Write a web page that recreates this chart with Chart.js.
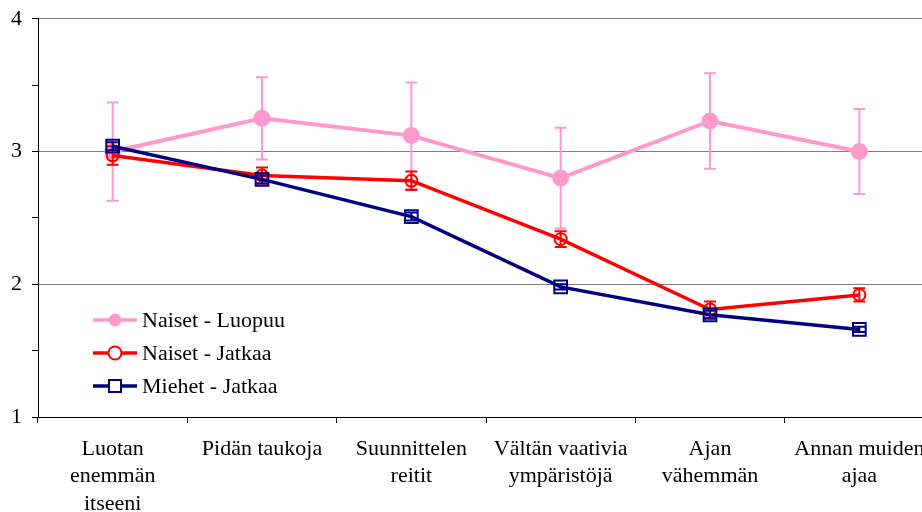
<!DOCTYPE html>
<html>
<head>
<meta charset="utf-8">
<script src="https://cdn.jsdelivr.net/npm/chart.js@4"></script>
<style>
  html, body { margin: 0; padding: 0; background: #fff; overflow: hidden; }
  #myChart { display: block; }
</style>
</head>
<body>
<canvas id="myChart" width="945" height="512"></canvas>
<script>
const kategoriat = [
    ['Luotan', 'enemmän', 'itseeni'],
    'Pidän taukoja',
    ['Suunnittelen', 'reitit'],
    ['Vältän vaativia', 'ympäristöjä'],
    ['Ajan', 'vähemmän'],
    ['Annan muiden', 'ajaa']
];

const naisetLuopuu = [3.00, 3.25, 3.12, 2.80, 3.23, 3.00];
const naisetLuopuuVirhe = [0.37, 0.31, 0.40, 0.38, 0.36, 0.32];

const naisetJatkaa = [2.97, 2.82, 2.78, 2.34, 1.81, 1.92];
const naisetJatkaaVirhe = [0.07, 0.06, 0.07, 0.06, 0.06, 0.05];

const miehetJatkaa = [3.04, 2.79, 2.51, 1.98, 1.77, 1.66];
const miehetJatkaaVirhe = [0.03, 0.03, 0.03, 0.02, 0.03, 0.02];

const fontti = "'Liberation Serif', 'Times New Roman', serif";

const virhepalkit = {
    id: 'virhepalkit',
    afterDatasetDraw(chart, args) {
        const ds = chart.data.datasets[args.index];
        if (!ds.virheet) return;
        const y = chart.scales.y;
        const ctx = chart.ctx;
        ctx.save();
        ctx.strokeStyle = ds.borderColor;
        ctx.lineWidth = 2;
        args.meta.data.forEach((pt, i) => {
            const e = ds.virheet[i];
            const yl = y.getPixelForValue(ds.data[i] + e);
            const ya = y.getPixelForValue(ds.data[i] - e);
            ctx.beginPath();
            ctx.moveTo(pt.x, yl); ctx.lineTo(pt.x, ya);
            ctx.moveTo(pt.x - 6, yl); ctx.lineTo(pt.x + 6, yl);
            ctx.moveTo(pt.x - 6, ya); ctx.lineTo(pt.x + 6, ya);
            ctx.stroke();
        });
        ctx.restore();
    }
};

const selite = {
    id: 'selite',
    afterDraw(chart) {
        const ctx = chart.ctx;
        const a = chart.chartArea;
        const x0 = a.left + 55, y0 = 320;
        ctx.save();
        ctx.font = '22px ' + fontti;
        ctx.textBaseline = 'middle';
        chart.data.datasets.forEach((ds, i) => {
            const yy = y0 + i * 33;
            ctx.strokeStyle = ds.borderColor;
            ctx.lineWidth = 3.5;
            ctx.beginPath();
            ctx.moveTo(x0, yy); ctx.lineTo(x0 + 44, yy);
            ctx.stroke();
            ctx.lineWidth = 2;
            const cx = x0 + 22;
            if (ds.pointStyle === 'rect') {
                ctx.fillStyle = '#fff';
                ctx.fillRect(cx - 6, yy - 6, 12, 12);
                ctx.strokeRect(cx - 6, yy - 6, 12, 12);
            } else {
                ctx.beginPath();
                ctx.arc(cx, yy, 6.5, 0, Math.PI * 2);
                if (ds.pointBackgroundColor === ds.borderColor) {
                    ctx.fillStyle = ds.borderColor;
                    ctx.fill();
                } else {
                    ctx.fillStyle = '#fff';
                    ctx.fill();
                    ctx.stroke();
                }
            }
            ctx.fillStyle = '#000';
            ctx.fillText(ds.label, x0 + 49, yy + 1);
        });
        ctx.restore();
    }
};

const config = {
    type: 'line',
    data: {
        labels: kategoriat,
        datasets: [{
            label: 'Naiset - Luopuu',
            data: naisetLuopuu,
            virheet: naisetLuopuuVirhe,
            borderColor: '#FF99CC',
            pointBackgroundColor: '#FF99CC',
            pointBorderColor: '#FF99CC',
            pointStyle: 'circle',
            pointRadius: 6.5,
            borderWidth: 4,
            order: 2
        }, {
            label: 'Naiset - Jatkaa',
            data: naisetJatkaa,
            virheet: naisetJatkaaVirhe,
            borderColor: '#FF0000',
            pointBackgroundColor: 'rgba(0,0,0,0)',
            pointBorderColor: '#FF0000',
            pointStyle: 'circle',
            pointRadius: 6,
            pointBorderWidth: 2,
            borderWidth: 3.5,
            order: 1
        }, {
            label: 'Miehet - Jatkaa',
            data: miehetJatkaa,
            virheet: miehetJatkaaVirhe,
            borderColor: '#000080',
            pointBackgroundColor: 'rgba(0,0,0,0)',
            pointBorderColor: '#000080',
            pointStyle: 'rect',
            pointRadius: 9,
            pointBorderWidth: 2,
            borderWidth: 3.5,
            order: 0
        }]
    },
    options: {
        responsive: false,
        animation: false,
        layout: { padding: { top: 17, right: 1, left: 0, bottom: 0 } },
        plugins: {
            legend: { display: false },
            tooltip: { enabled: false }
        },
        scales: {
            x: {
                offset: true,
                afterFit: s => { s.height = 95; },
                border: { color: '#000', width: 1 },
                grid: {
                    offset: true,
                    drawOnChartArea: false,
                    tickLength: 6,
                    tickColor: '#000'
                },
                ticks: {
                    color: '#000',
                    padding: 12,
                    maxRotation: 0,
                    autoSkip: false,
                    font: { family: fontti, size: 22, lineHeight: 1.25 }
                }
            },
            y: {
                min: 1,
                max: 4,
                afterFit: s => { s.width = 38; },
                border: { color: '#000', width: 1 },
                grid: {
                    color: c => Number.isInteger(c.tick.value) ? '#808080' : 'rgba(0,0,0,0)',
                    tickColor: '#000',
                    tickLength: 6
                },
                ticks: {
                    stepSize: 0.5,
                    color: '#000',
                    padding: 10,
                    callback: v => Number.isInteger(v) ? v : '',
                    font: { family: fontti, size: 22, lineHeight: 0.8 }
                }
            }
        }
    },
    plugins: [virhepalkit, selite]
};

const ctx = document.getElementById('myChart').getContext('2d');
new Chart(ctx, config);
</script>
</body>
</html>
